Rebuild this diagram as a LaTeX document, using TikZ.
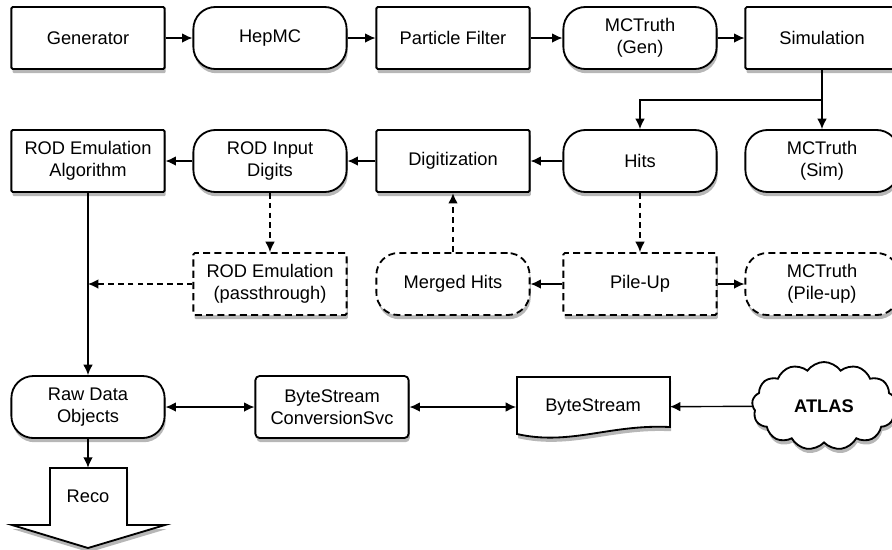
\documentclass[tikz,border=0pt]{standalone}
\usepackage{fontspec}
\setmainfont{Liberation Sans}
\usetikzlibrary{shapes.symbols,shadows,arrows.meta}
\tikzset{>={Latex[length=2.6mm,width=2.4mm]}, every edge/.style={draw,->,line width=1pt},
	dashflow/.style={dash pattern=on 4pt off 3pt}}
\tikzstyle{shade}=[drop shadow={shadow xshift=0.8pt,shadow yshift=-3pt,opacity=0.4,fill=black!70}]
\tikzstyle{procbox}=[rectangle,draw=black,fill=white,line width=1.3pt,rounded corners=1pt,minimum width=3.83cm,minimum height=1.55cm,inner sep=0pt,align=center,shade]
\tikzstyle{databox}=[procbox,rounded corners=0.55cm]
\tikzstyle{procdash}=[procbox,dash pattern=on 5pt off 3pt]
\tikzstyle{datadash}=[databox,dash pattern=on 5pt off 3pt]

\begin{document}
\begin{tikzpicture}[x=0.025cm,y=-0.025cm,font=\fontsize{13}{15.5}\selectfont]
	\useasboundingbox (0,0) rectangle (892,549);
	% generation and simulation
	\node at (88,38) [procbox] (gen) {Generator};
	\node at (270,38) [databox] (hepmc) {HepMC};
	\node at (453,38) [procbox] (filter) {Particle Filter};
	\node at (640,38) [databox] (mcgen) {MCTruth\\(Gen)};
	\node at (822,38) [procbox] (sim) {Simulation};
	% digitization
	\node at (88,161) [procbox] (rodalg) {ROD Emulation\\Algorithm};
	\node at (270,161) [databox] (rodin) {ROD Input\\Digits};
	\node at (453,161) [procbox] (digi) {Digitization};
	\node at (640,161) [databox] (hits) {Hits};
	\node at (822,161) [databox] (mcsim) {MCTruth\\(Sim)};
	% pile-up
	\node at (270,284) [procdash] (rodpass) {ROD Emulation\\(passthrough)};
	\node at (453,284) [datadash] (merged) {Merged Hits};
	\node at (640,284) [procdash] (pileup) {Pile-Up};
	\node at (822,284) [datadash] (mcpile) {MCTruth\\(Pile-up)};
	% bytestream
	\node at (88,407) [databox] (raw) {Raw Data\\Objects};
	\node at (332,407) [procbox,rounded corners=3pt] (bsconv) {ByteStream\\ConversionSvc};
	\draw[line width=1.3pt,fill=white,shade] (517,377) -- (670,377) -- (670,427)
		.. controls (610,424) and (570,446) .. (517,434) -- cycle;
	\node at (593,407) [minimum width=3.83cm,minimum height=1.5cm,inner sep=0pt] (bs) {ByteStream};
	\node at (824,406) [cloud,draw,fill=white,line width=1.3pt,cloud puffs=13,cloud puff arc=110,aspect=1.7,
		minimum width=3.6cm,minimum height=2.2cm,shade,font=\fontsize{13}{15.5}\selectfont\bfseries] (atlas) {ATLAS};
	\draw[line width=1.3pt,fill=white,shade] (50,468) -- (127,468) -- (127,525) -- (165,525)
		-- (88,548) -- (12,525) -- (50,525) -- cycle;
	\node at (88,496.5) [minimum width=1.9cm,minimum height=1.425cm,inner sep=0pt] (reco) {Reco};
	\coordinate (fork) at (822,100);
	\coordinate (join) at (88,284);
	\draw (gen) edge (hepmc);
	\draw (hepmc) edge (filter);
	\draw (filter) edge (mcgen);
	\draw (mcgen) edge (sim);
	\draw[->,line width=1pt] (sim.south) -- (fork) -| (hits.north);
	\draw (sim) edge (mcsim);
	\draw (hits) edge (digi);
	\draw (digi) edge (rodin);
	\draw (rodin) edge (rodalg);
	\draw (rodalg) edge (raw);
	\draw (rodin) edge[dashflow] (rodpass);
	\draw (rodpass) edge[dashflow] (join);
	\draw (hits) edge[dashflow] (pileup);
	\draw (pileup) edge (merged);
	\draw (pileup) edge (mcpile);
	\draw (merged) edge[dashflow,line width=1.6pt] (digi);
	\draw (raw) edge[<->] (bsconv);
	\draw (bsconv) edge[<->] (bs);
	\draw (atlas) edge (bs);
	\draw (raw) edge (reco);
\end{tikzpicture}
\end{document}
